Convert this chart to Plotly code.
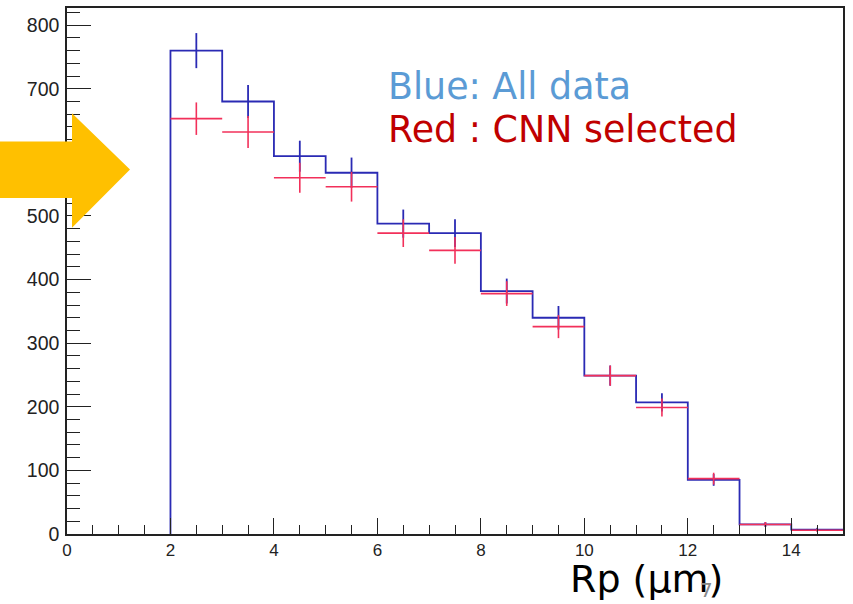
import numpy as np
import plotly.graph_objects as go

# ---- data ----
bin_edges = [2, 3, 4, 5, 6, 7, 8, 9, 10, 11, 12, 13, 14, 15]
all_data = [760, 680, 594, 568, 488, 473, 382, 340, 249, 207, 85, 15, 7]
cnn_selected = [653, 632, 560, 546, 473, 446, 378, 326, 249, 199, 87, 15, 6]
x_ticks = [0, 2, 4, 6, 8, 10, 12, 14]
y_ticks = [0, 100, 200, 300, 400, 500, 600, 700, 800]

BLUE = "#2a2ab4"
RED = "#f2305a"

W, H = 853, 604
ML, MR, MT, MB = 67, 10, 6, 70
PW, PH = W - ML - MR, H - MT - MB


def px(x):
    return (x - ML) / PW


def py(y):
    return (H - MB - y) / PH


edges = np.array(bin_edges, dtype=float)
centers = (edges[:-1] + edges[1:]) / 2
blue = np.array(all_data, dtype=float)
red = np.array(cnn_selected, dtype=float)

fig = go.Figure()

# blue histogram step line
step_x = [edges[0]] + list(edges)
step_y = [0] + list(blue) + [blue[-1]]
fig.add_trace(go.Scatter(x=step_x, y=step_y[:len(step_x)], mode="lines",
                         line=dict(color=BLUE, width=1.8, shape="hv"),
                         hoverinfo="skip", showlegend=False))
# blue error bars
ex, ey = [], []
for c, v in zip(centers, blue):
    e = np.sqrt(v)
    ex += [c, c, None]
    ey += [v - e, v + e, None]
fig.add_trace(go.Scatter(x=ex, y=ey, mode="lines",
                         line=dict(color=BLUE, width=1.8),
                         hoverinfo="skip", showlegend=False))

# red crosses
rx, ry = [], []
for lo, hi, c, v in zip(edges[:-1], edges[1:], centers, red):
    e = np.sqrt(v)
    rx += [lo, hi, None, c, c, None]
    ry += [v, v, None, v - e, v + e, None]
fig.add_trace(go.Scatter(x=rx, y=ry, mode="lines",
                         line=dict(color=RED, width=1.6),
                         hoverinfo="skip", showlegend=False))

axis_common = dict(showgrid=False, zeroline=False, showline=True,
                   linecolor="#222222", linewidth=1.5, mirror=True,
                   ticks="inside", tickcolor="#222222", tickwidth=1.3)

fig.update_xaxes(range=[0, 15], tickmode="array", tickvals=x_ticks,
                 ticklen=16, tickfont=dict(family="Liberation Sans", size=17, color="#222222"),
                 minor=dict(ticks="inside", dtick=0.5, ticklen=9, tickcolor="#222222", tickwidth=1.3),
                 **axis_common)
fig.update_yaxes(range=[0, 827], tickmode="array", tickvals=y_ticks,
                 ticklen=24, tickfont=dict(family="Liberation Sans", size=19.5, color="#222222"),
                 minor=dict(ticks="inside", dtick=20, ticklen=13, tickcolor="#222222", tickwidth=1.3),
                 ticklabelstandoff=2,
                 **axis_common)

# orange arrow
pts = [(-5, 140), (72, 140), (72, 111.7), (130, 168), (72, 226.7), (72, 196.7), (-5, 196.7)]
path = "M " + " L ".join(f"{px(a):.5f},{py(b):.5f}" for a, b in pts) + " Z"
fig.add_shape(type="path", path=path, xref="paper", yref="paper",
              fillcolor="#ffc000", line=dict(width=0), layer="above")

fig.add_annotation(x=px(386), y=py(85), xref="paper", yref="paper",
                   text="Blue: All data", showarrow=False, xanchor="left", yanchor="middle",
                   font=dict(family="DejaVu Sans", size=36.4, color="#5b9bd5"))
fig.add_annotation(x=px(386), y=py(128), xref="paper", yref="paper",
                   text="Red : CNN selected", showarrow=False, xanchor="left", yanchor="middle",
                   font=dict(family="DejaVu Sans", size=36.4, color="#c00000"))
fig.add_annotation(x=px(646), y=py(579), xref="paper", yref="paper",
                   text="Rp (μm)", showarrow=False, xanchor="center", yanchor="middle",
                   font=dict(family="DejaVu Sans", size=38, color="#000000"))
fig.add_annotation(x=px(706), y=py(590), xref="paper", yref="paper",
                   text="7", showarrow=False, xanchor="center", yanchor="middle",
                   font=dict(family="DejaVu Sans", size=20, color="#888888"))

fig.update_layout(width=W, height=H, margin=dict(l=ML, r=MR, t=MT, b=MB),
                  paper_bgcolor="white", plot_bgcolor="white")

fig.write_html("out.html")
